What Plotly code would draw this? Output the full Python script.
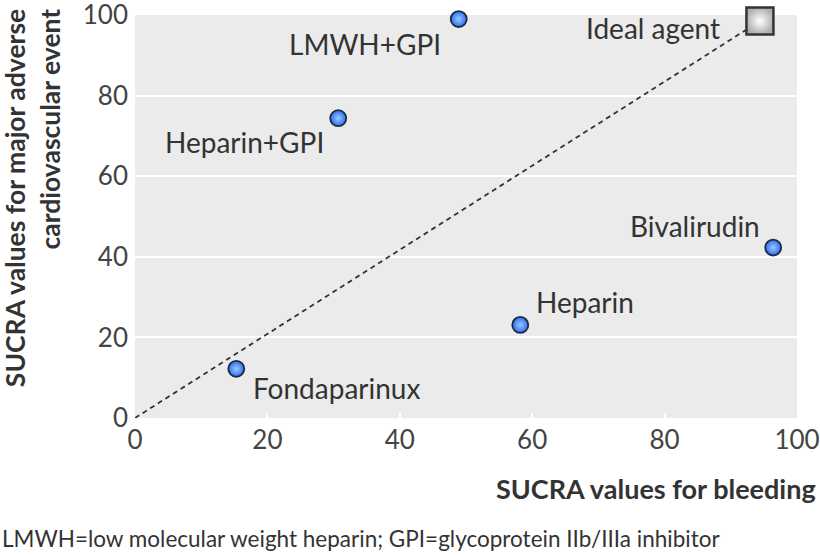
import plotly.graph_objects as go

# Data
agents = ["LMWH+GPI", "Heparin+GPI", "Bivalirudin", "Heparin", "Fondaparinux"]
sucra_bleeding = [48.9, 30.7, 96.4, 58.2, 15.3]
sucra_mace = [99.0, 74.4, 42.3, 23.1, 12.2]
ideal_name = "Ideal agent"
ideal_x = 94.4
ideal_y = 98.5
tick_vals = [0, 20, 40, 60, 80, 100]

# label pixel offsets (text anchor relative to point)
label_offsets = {
    "LMWH+GPI": (-16, 25, "right"),
    "Heparin+GPI": (-12, 24, "right"),
    "Bivalirudin": (-11, -22, "right"),
    "Heparin": (14, -23, "left"),
    "Fondaparinux": (15, 19, "left"),
}

FONT = "Lato"
TXT = "#333333"

fig = go.Figure()

fig.add_trace(go.Scatter(
    x=[0, ideal_x], y=[0, ideal_y], mode="lines",
    line=dict(color="#333333", width=1.8, dash="5px,4px"),
    hoverinfo="skip", showlegend=False))

fig.add_trace(go.Scatter(
    x=sucra_bleeding, y=sucra_mace, mode="markers",
    marker=dict(size=16, color="#2b6ff0",
                gradient=dict(type="radial", color="#9cc6ff"),
                line=dict(color="#1c2b45", width=1.8)),
    text=agents, showlegend=False, cliponaxis=False))

fig.add_trace(go.Scatter(
    x=[ideal_x], y=[ideal_y], mode="markers",
    marker=dict(symbol="square", size=27, color="#b0b0b0",
                gradient=dict(type="radial", color="#ffffff"),
                line=dict(color="#333333", width=2.5)),
    text=[ideal_name], showlegend=False, cliponaxis=False))

for name, xv, yv in zip(agents, sucra_bleeding, sucra_mace):
    dx, dy, anch = label_offsets[name]
    fig.add_annotation(x=xv, y=yv, text=name, showarrow=True, arrowcolor="rgba(0,0,0,0)",
                       ax=dx, ay=dy, xanchor=anch, yanchor="middle",
                       font=dict(family=FONT, size=28, color=TXT))
fig.add_annotation(x=ideal_x, y=ideal_y, text=ideal_name, showarrow=True,
                   arrowcolor="rgba(0,0,0,0)", ax=-38, ay=7, xanchor="right",
                   yanchor="middle", font=dict(family=FONT, size=28, color=TXT))

# axis titles & footnote
fig.add_annotation(xref="paper", yref="paper", x=1.0317, y=-0.1737, xanchor="right",
                   yanchor="middle", showarrow=False,
                   text="<b>SUCRA values for bleeding</b>",
                   font=dict(family=FONT, size=27, color=TXT))
fig.add_annotation(xref="paper", yref="paper", x=-0.1553, y=1.02, xanchor="center",
                   yanchor="top", showarrow=False, textangle=-90, align="right",
                   text="<b>SUCRA values for major adverse<br>cardiovascular event</b>",
                   font=dict(family=FONT, size=26.5, color=TXT))
fig.add_annotation(xref="paper", yref="paper", x=-0.2039, y=-0.2978, xanchor="left",
                   yanchor="middle", showarrow=False,
                   text="LMWH=low molecular weight heparin; GPI=glycoprotein IIb/IIIa inhibitor",
                   font=dict(family=FONT, size=22.5, color=TXT))

fig.update_layout(
    width=820, height=556,
    margin=dict(l=135, r=23, t=15, b=138),
    paper_bgcolor="white", plot_bgcolor="#ebebeb",
    font=dict(family=FONT, size=26, color="#444444"),
    showlegend=False,
)
fig.update_xaxes(range=[0, 100], tickvals=tick_vals, showgrid=False, zeroline=False,
                 ticks="inside", ticklen=5, tickwidth=2, tickcolor="white",
                 tickfont=dict(size=26), showline=False, automargin=False,
                 ticklabelstandoff=4, ticklabeloverflow="allow")
fig.update_yaxes(range=[0, 100], tickvals=tick_vals, showgrid=True, gridcolor="white",
                 gridwidth=2, zeroline=False, ticks="", tickfont=dict(size=26),
                 showline=False, ticklabelstandoff=6, automargin=False,
                 ticklabeloverflow="allow")

fig.write_html("out.html", config={"displayModeBar": False},
               post_script="document.body.style.margin='0';document.body.style.padding='0';")
